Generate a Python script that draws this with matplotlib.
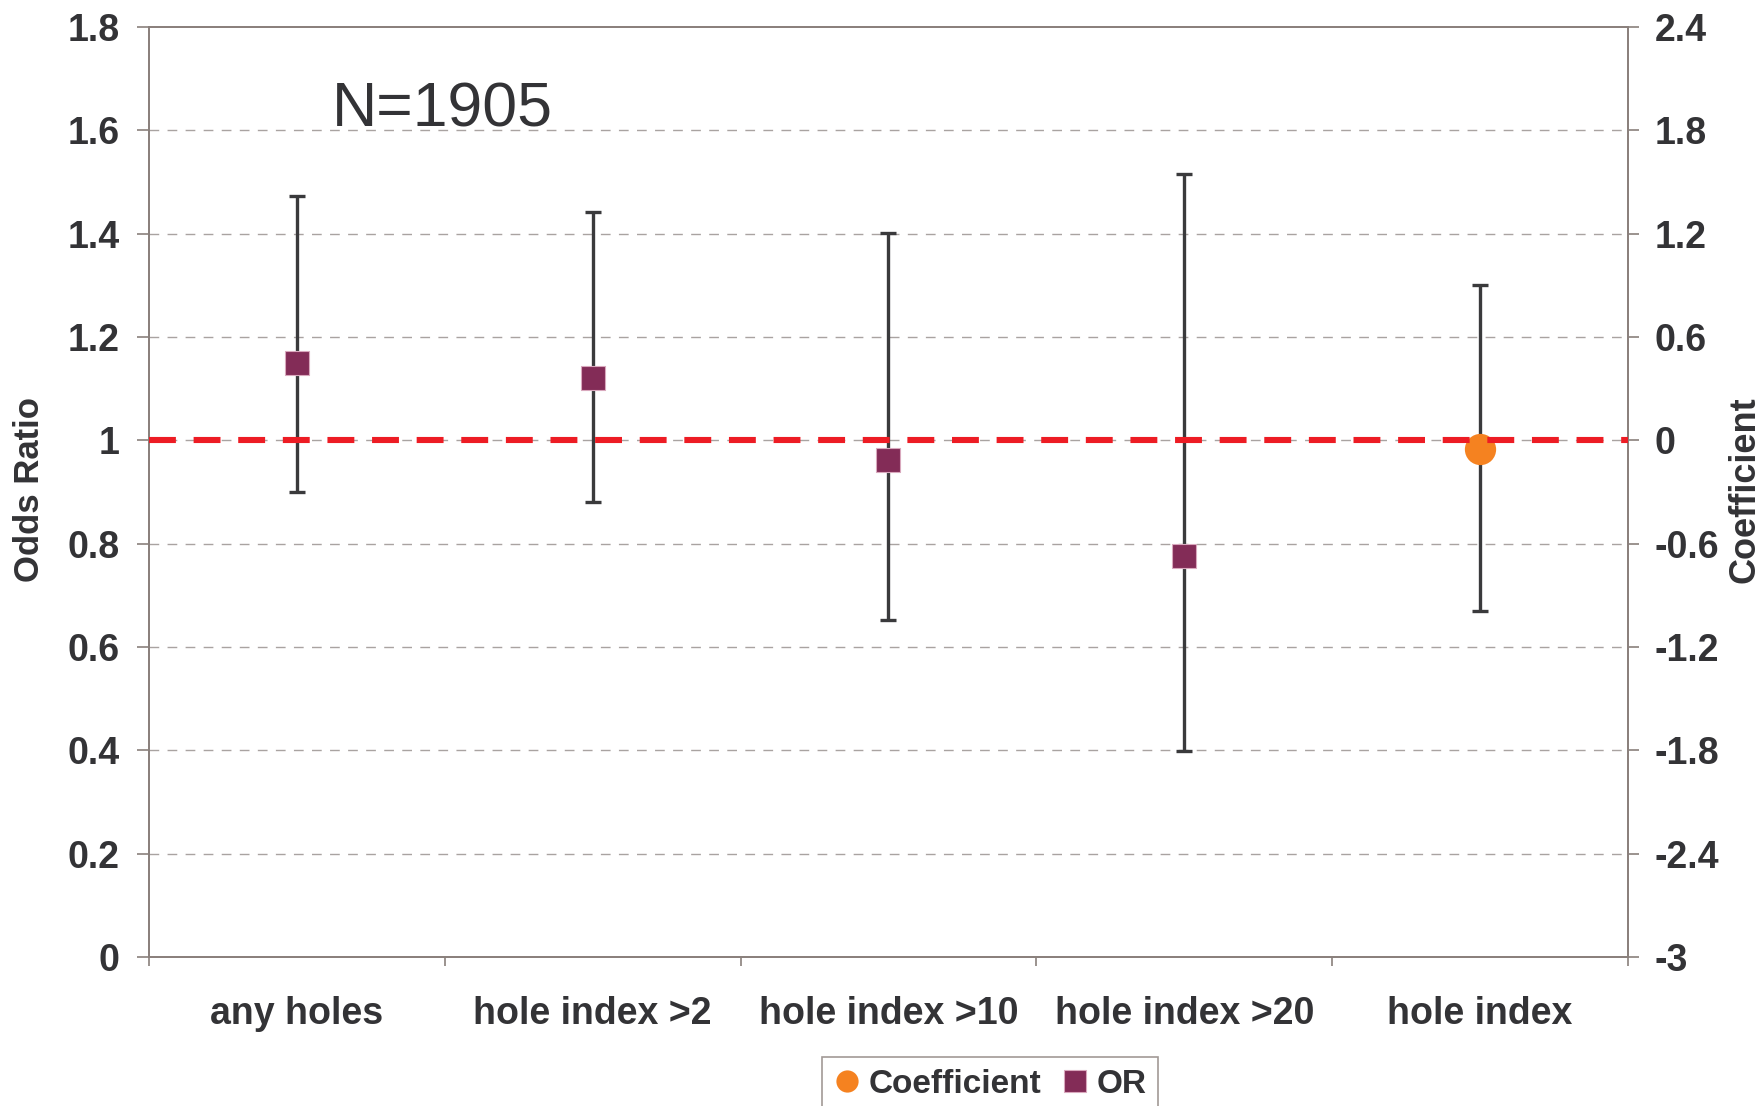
import matplotlib
matplotlib.use("Agg")
import matplotlib.pyplot as plt
from matplotlib.lines import Line2D
import numpy as np

plt.rcParams['font.family'] = ['Liberation Sans', 'DejaVu Sans']

categories = ["any holes", "hole index >2", "hole index >10", "hole index >20", "hole index"]

# Odds ratios (left axis) for the first four categories
or_values = [1.15, 1.12, 0.962, 0.777]
or_upper = [1.472, 1.441, 1.402, 1.516]
or_lower = [0.900, 0.881, 0.653, 0.398]

# Coefficient (right axis) for the last category
coef_value = [-0.05]
coef_upper = [0.90]
coef_lower = [-0.99]

left_ticks = [0, 0.2, 0.4, 0.6, 0.8, 1.0, 1.2, 1.4, 1.6, 1.8]
left_labels = ["0", "0.2", "0.4", "0.6", "0.8", "1", "1.2", "1.4", "1.6", "1.8"]
right_ticks = [-3, -2.4, -1.8, -1.2, -0.6, 0, 0.6, 1.2, 1.8, 2.4]
right_labels = ["-3", "-2.4", "-1.8", "-1.2", "-0.6", "0", "0.6", "1.2", "1.8", "2.4"]

TXT = "#333336"
SPINE = "#8a807c"
OR_COLOR = "#832C57"
COEF_COLOR = "#F58220"
RED = "#ED1C24"
ERR = "#3a3a3c"

fig = plt.figure(figsize=(17.63, 11.06), dpi=100)
ax = fig.add_axes([0.0845, 0.1347, 0.9234 - 0.0845, 0.9756 - 0.1347])
ax2 = ax.twinx()

x = np.arange(len(categories))
xo = x[:len(or_values)]
xc = x[len(or_values):]

ax.set_xlim(-0.5, len(categories) - 0.5)
ax.set_ylim(0, 1.8)
ax2.set_ylim(-3, 2.4)

# grid
for t in left_ticks[1:-1]:
    ax.axhline(t, color="#a9a3a1", lw=1.0, ls=(0, (7, 6)), zorder=0)

# OR error bars and markers
yerr = [np.array(or_values) - np.array(or_lower), np.array(or_upper) - np.array(or_values)]
ax.errorbar(xo, or_values, yerr=yerr, fmt='none', ecolor=ERR, elinewidth=2.4,
            capsize=6, capthick=2.4, zorder=3)
ax.plot(xo, or_values, ls='none', marker='s', markersize=17.5, markerfacecolor=OR_COLOR,
        markeredgecolor="#d9a8bd", markeredgewidth=0.8, zorder=4)

# Coefficient error bar and marker
cerr = [np.array(coef_value) - np.array(coef_lower), np.array(coef_upper) - np.array(coef_value)]
ax2.errorbar(xc, coef_value, yerr=cerr, fmt='none', ecolor=ERR, elinewidth=2.4,
             capsize=6, capthick=2.4, zorder=3)
ax2.plot(xc, coef_value, ls='none', marker='o', markersize=22.5, markerfacecolor=COEF_COLOR,
         markeredgecolor=COEF_COLOR, markeredgewidth=0, zorder=4)

# reference line
ax2.axhline(0, color=RED, lw=4.4, dashes=(4.4, 2.9), zorder=6)

# ticks
ax.set_yticks(left_ticks)
ax.set_yticklabels(left_labels)
ax2.set_yticks(right_ticks)
ax2.set_yticklabels(right_labels)
ax.set_xticks(x)
ax.set_xticklabels(categories)
ax.set_xticks(np.arange(-0.5, len(categories)), minor=True)

ax.tick_params(axis='y', which='major', direction='out', length=9, width=1.2, color=SPINE,
               labelsize=27, labelcolor=TXT, pad=12)
ax2.tick_params(axis='y', which='major', direction='out', length=8, width=1.2, color=SPINE,
                labelsize=27, labelcolor=TXT, pad=11)
ax.tick_params(axis='x', which='major', length=0, labelsize=27, labelcolor=TXT, pad=28)
ax.tick_params(axis='x', which='minor', direction='out', length=6.5, width=1.2, color=SPINE)

for lab in ax.get_yticklabels() + ax2.get_yticklabels() + ax.get_xticklabels():
    lab.set_fontweight('bold')

for a in (ax, ax2):
    for s in a.spines.values():
        s.set_color(SPINE)
        s.set_linewidth(1.3)

# axis titles placed in figure coordinates
fig.text(30 / 1763, 1 - 490 / 1106, "Odds Ratio", rotation=90, fontsize=25, fontweight='bold',
         color=TXT, ha='center', va='center')
fig.text(1745 / 1763, 1 - 490 / 1106, "Coefficient", rotation=90, fontsize=26, fontweight='bold',
         color=TXT, ha='center', va='center')

ax.text(0.119, 1.608, "N=1905", fontsize=45, color=TXT, ha='left', va='baseline')

handles = [
    Line2D([], [], ls='none', marker='o', markersize=16, markerfacecolor=COEF_COLOR,
           markeredgewidth=0),
    Line2D([], [], ls='none', marker='s', markersize=16, markerfacecolor=OR_COLOR,
           markeredgecolor="#d9a8bd", markeredgewidth=0.8),
]
leg = fig.legend(handles, ["Coefficient", "OR"], loc='upper center',
                 bbox_to_anchor=(990 / 1763, 1 - 1057 / 1106), ncol=2, frameon=True,
                 fancybox=False, edgecolor=SPINE, handlelength=0.8, handletextpad=0.25,
                 columnspacing=0.6, borderpad=0.35, borderaxespad=0,
                 prop={'size': 24, 'weight': 'bold'})
leg.get_frame().set_linewidth(1.2)
for t in leg.get_texts():
    t.set_color(TXT)

fig.savefig("out.png", dpi=100)
